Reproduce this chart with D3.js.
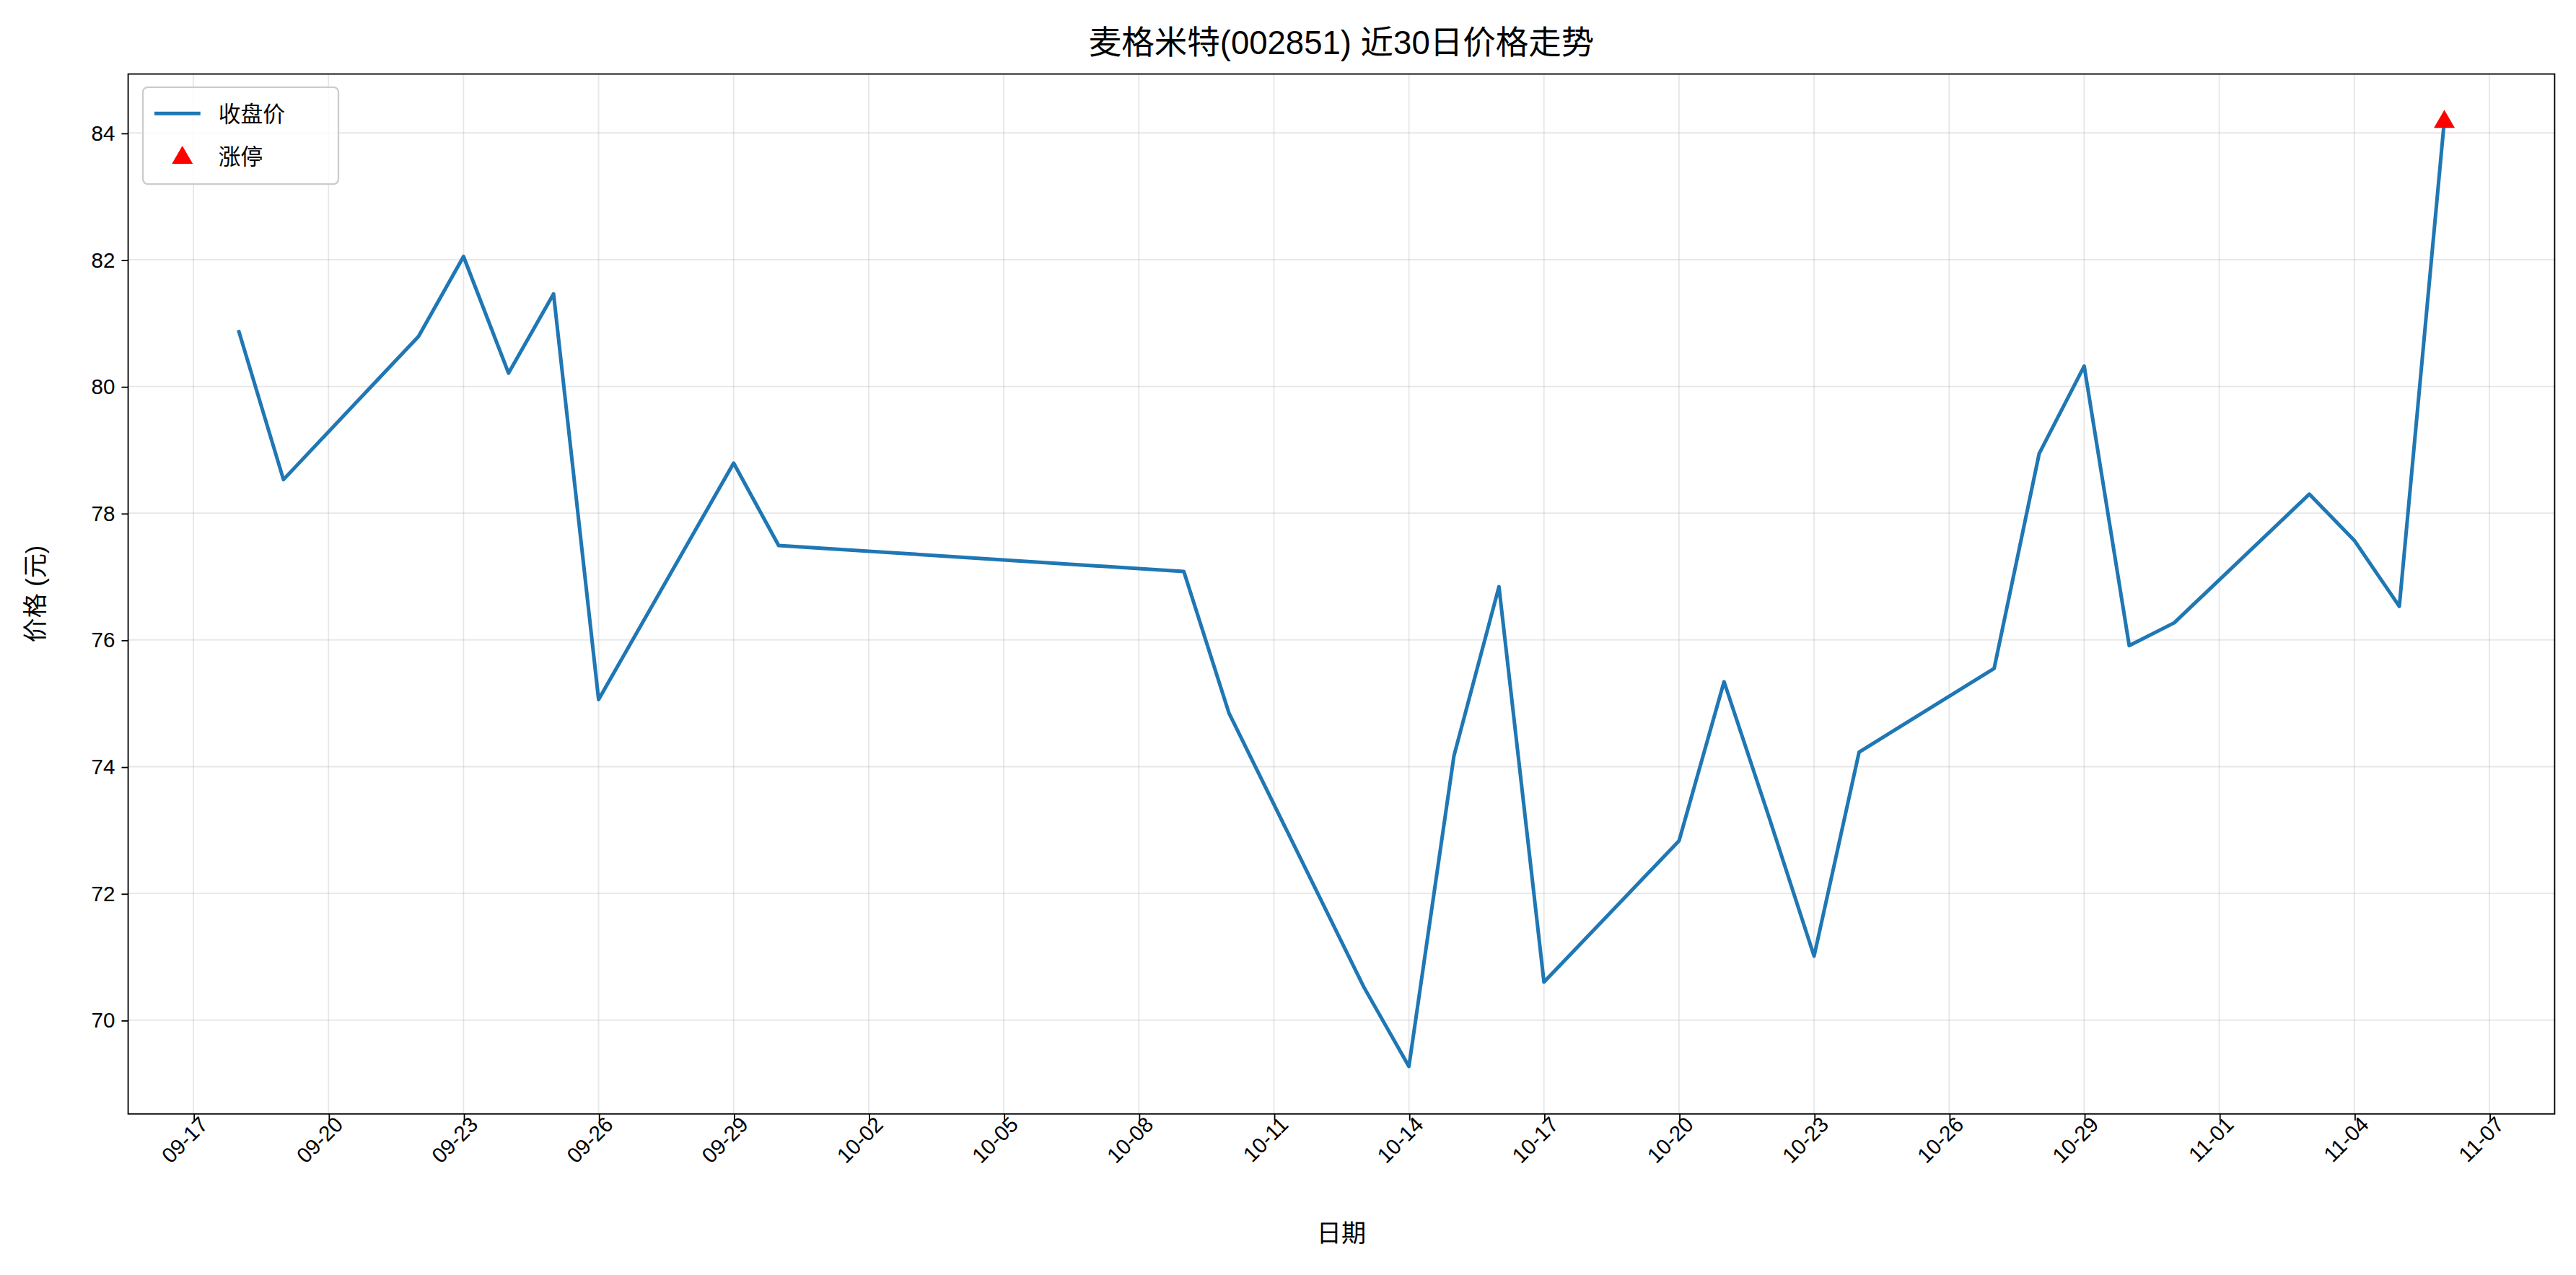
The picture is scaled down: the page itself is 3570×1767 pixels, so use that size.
<!DOCTYPE html>
<html><head><meta charset="utf-8">
<script src="https://cdn.jsdelivr.net/npm/d3@7"></script>
<style>body{margin:0;background:#fff}text{font-family:"Liberation Sans","Noto Sans CJK SC",sans-serif}</style>
</head><body>
<script>
var dates = ["09-18","09-19","09-22","09-23","09-24","09-25","09-26","09-29","09-30","10-09",
  "10-10","10-13","10-14","10-15","10-16","10-17","10-20","10-21","10-22","10-23",
  "10-24","10-27","10-28","10-29","10-30","10-31","11-03","11-04","11-05","11-06"];
var closes = [80.89,78.53,80.79,82.05,80.21,81.46,75.06,78.79,77.49,77.08,
  74.85,70.52,69.27,74.17,76.84,70.60,72.83,75.34,73.20,71.01,
  74.23,75.55,78.94,80.32,75.91,76.27,78.30,77.57,76.53,84.20];
var limitUp = ["11-06"];
var yTicks = [70,72,74,76,78,80,82,84];

var parse = function (s) { return d3.timeParse("%Y-%m-%d")("2025-" + s); };
var W = 1568, H = 776, L = 78, R = 1555, T = 45, B = 678;
var svg = d3.select("body").append("svg")
    .attr("width", 3570).attr("height", 1767)
    .attr("viewBox", "0 0 " + W + " " + H);

var pts = dates.map(function (d, i) { return {t: parse(d), v: closes[i], d: d}; });
var day = 864e5;
var x = d3.scaleTime()
    .domain([+pts[0].t - 2.45 * day, +pts[pts.length - 1].t + 2.45 * day])
    .range([L, R]);
var y = d3.scaleLinear().domain([68.52, 84.93]).range([B, T]);

var xTicks = d3.timeDay.range(parse("09-17"), parse("11-08"), 1)
    .filter(function (d, i) { return i % 3 === 0; });

// grid
svg.append("g").selectAll("line").data(xTicks).join("line")
    .attr("x1", x).attr("x2", x).attr("y1", T).attr("y2", B)
    .attr("stroke", "#b0b0b0").attr("stroke-opacity", 0.3).attr("stroke-width", 0.8);
svg.append("g").selectAll("line").data(yTicks).join("line")
    .attr("y1", y).attr("y2", y).attr("x1", L).attr("x2", R)
    .attr("stroke", "#b0b0b0").attr("stroke-opacity", 0.3).attr("stroke-width", 0.8);

// axes
var xAxis = svg.append("g").attr("transform", "translate(0," + B + ")")
    .call(d3.axisBottom(x).tickValues(xTicks).tickFormat(d3.timeFormat("%m-%d")).tickSize(4).tickPadding(3));
xAxis.selectAll("text").attr("font-size", 13).attr("fill", "#000")
    .attr("text-anchor", "end").attr("dx", "0.1em").attr("dy", "0.35em")
    .attr("transform", "rotate(-45)");
var yAxis = svg.append("g").attr("transform", "translate(" + L + ",0)")
    .call(d3.axisLeft(y).tickValues(yTicks).tickSize(4).tickPadding(4));
yAxis.selectAll("text").attr("font-size", 13).attr("fill", "#000");
svg.selectAll(".domain").remove();
svg.selectAll(".tick line").attr("stroke", "#000").attr("stroke-width", 0.8);
svg.append("rect").attr("x", L).attr("y", T).attr("width", R - L).attr("height", B - T)
    .attr("fill", "none").attr("stroke", "#000").attr("stroke-width", 0.8);

// line
svg.append("path").datum(pts)
    .attr("d", d3.line().x(function (d) { return x(d.t); }).y(function (d) { return y(d.v); }))
    .attr("fill", "none").attr("stroke", "#1f77b4").attr("stroke-width", 2.2)
    .attr("stroke-linejoin", "round");

var tri = d3.symbol().type(d3.symbolTriangle).size(70);
svg.selectAll(".up").data(pts.filter(function (d) { return limitUp.indexOf(d.d) >= 0; })).join("path")
    .attr("d", tri).attr("fill", "red")
    .attr("transform", function (d) { return "translate(" + x(d.t) + "," + (y(d.v) + 1) + ")"; });

// titles
svg.append("text").attr("x", (L + R) / 2).attr("y", 33).attr("text-anchor", "middle")
    .attr("font-size", 20).text("麦格米特(002851) 近30日价格走势");
svg.append("text").attr("x", (L + R) / 2).attr("y", 756).attr("text-anchor", "middle")
    .attr("font-size", 15).text("日期");
svg.append("text").attr("transform", "translate(27," + (T + B) / 2 + ") rotate(-90)")
    .attr("text-anchor", "middle").attr("font-size", 15).text("价格 (元)");

// legend
var lg = svg.append("g").attr("transform", "translate(87,53)");
lg.append("rect").attr("width", 119).attr("height", 59).attr("rx", 3)
    .attr("fill", "#fff").attr("fill-opacity", 0.8).attr("stroke", "#ccc");
lg.append("line").attr("x1", 7).attr("x2", 35).attr("y1", 16).attr("y2", 16)
    .attr("stroke", "#1f77b4").attr("stroke-width", 2.2);
lg.append("text").attr("x", 46).attr("y", 21).attr("font-size", 13.5).text("收盘价");
lg.append("path").attr("d", tri).attr("fill", "red").attr("transform", "translate(24,43)");
lg.append("text").attr("x", 46).attr("y", 47).attr("font-size", 13.5).text("涨停");
</script>
</body></html>
